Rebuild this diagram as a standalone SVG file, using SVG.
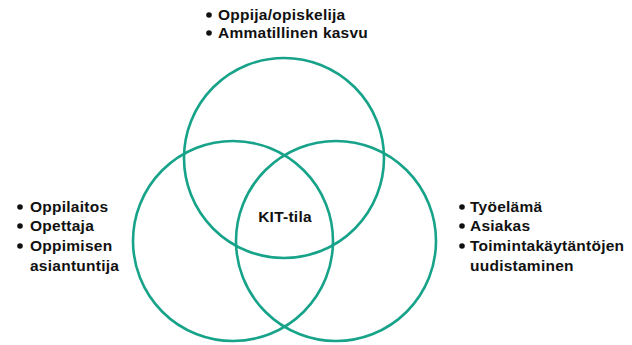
<svg xmlns="http://www.w3.org/2000/svg" width="632" height="345" viewBox="0 0 632 345">
<style>
.c{fill:none;stroke:#17a389;stroke-width:2.6}
.t{font-family:"Liberation Sans",Arial,sans-serif;font-weight:bold;font-size:15.5px;letter-spacing:0.25px;fill:#111}
.b{fill:#111}
</style>
<rect width="632" height="345" fill="#fff"/>
<g id="connectors"></g>
<g id="circle-top"><circle class="c" cx="284" cy="158" r="100"/></g>
<g id="circle-left"><circle class="c" cx="233" cy="241" r="100"/></g>
<g id="circle-right"><circle class="c" cx="336" cy="241" r="100"/></g>
<g id="label-center"><text class="t" x="285" y="222" text-anchor="middle" font-size="13.5" letter-spacing="0">KIT-tila</text></g>
<g id="label-top">
<circle class="b" cx="209" cy="15" r="2.8"/><text class="t" x="218" y="20">Oppija/opiskelija</text>
<circle class="b" cx="209" cy="33" r="2.8"/><text class="t" x="218" y="38">Ammatillinen kasvu</text>
</g>
<g id="label-left">
<circle class="b" cx="20" cy="207" r="2.8"/><text class="t" x="30" y="212">Oppilaitos</text>
<circle class="b" cx="20" cy="226" r="2.8"/><text class="t" x="30" y="231">Opettaja</text>
<circle class="b" cx="20" cy="246" r="2.8"/><text class="t" x="30" y="251">Oppimisen</text>
<text class="t" x="30" y="271">asiantuntija</text>
</g>
<g id="label-right">
<circle class="b" cx="462" cy="207" r="2.8"/><text class="t" x="470" y="212">Työelämä</text>
<circle class="b" cx="462" cy="226" r="2.8"/><text class="t" x="470" y="231">Asiakas</text>
<circle class="b" cx="462" cy="246" r="2.8"/><text class="t" x="470" y="251">Toimintakäytäntöjen</text>
<text class="t" x="470" y="271">uudistaminen</text>
</g>
</svg>
